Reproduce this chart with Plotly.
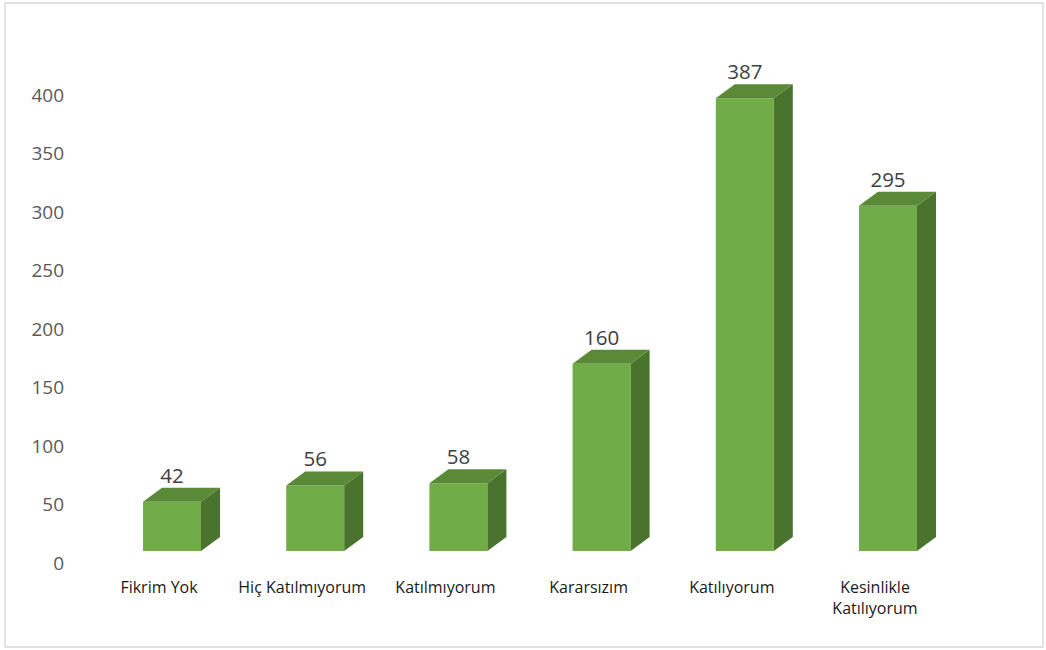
import plotly.graph_objects as go

categories = ["Fikrim Yok", "Hiç Katılmıyorum", "Katılmıyorum", "Kararsızım", "Katılıyorum", "Kesinlikle<br>Katılıyorum"]
values = [42, 56, 58, 160, 387, 295]
y_ticks = [0, 50, 100, 150, 200, 250, 300, 350, 400]

FRONT = "#70AD47"
TOP = "#5A8A38"
SIDE = "#4A742D"

W, H = 1046, 650
ml, mr, mt, mb = 75, 100, 40, 74
plot_h = H - mt - mb
plot_w = W - ml - mr
ppu = 1.17  # px per unit
y_label_zero_px = 563
y_bar_zero_px = 551
ylo = -(mt + plot_h - y_label_zero_px) / ppu
yhi = (y_label_zero_px - mt) / ppu
shift = (y_label_zero_px - y_bar_zero_px) / ppu

cat_px = 143.2
first_label_px = 159
xlo = (ml - first_label_px) / cat_px
xhi = (ml + plot_w - first_label_px) / cat_px

bw = 58 / cat_px
off = 13 / cat_px
dx = 19 / cat_px
dy = 14 / ppu

xs = [i + off for i in range(len(values))]

fig = go.Figure()
fig.add_trace(go.Scatter(x=[0], y=[0], mode="markers", marker=dict(opacity=0), yaxis="y",
                         showlegend=False, hoverinfo="skip"))
fig.add_trace(go.Bar(x=xs, y=values, width=bw, marker=dict(color=FRONT, line=dict(width=0)),
                     yaxis="y2", showlegend=False, hoverinfo="skip"))

sx, sy, tx, ty = [], [], [], []
for x, v in zip(xs, values):
    r = x + bw / 2
    l = x - bw / 2
    sx += [r, r + dx, r + dx, r, r, None]
    sy += [0, dy, v + dy, v, 0, None]
    tx += [l, r, r + dx, l + dx, l, None]
    ty += [v, v, v + dy, v + dy, v, None]
fig.add_trace(go.Scatter(x=sx, y=sy, fill="toself", fillcolor=SIDE, mode="lines",
                         line=dict(width=0, color=SIDE), yaxis="y2", showlegend=False, hoverinfo="skip"))
fig.add_trace(go.Scatter(x=tx, y=ty, fill="toself", fillcolor=TOP, mode="lines",
                         line=dict(width=0, color=TOP), yaxis="y2", showlegend=False, hoverinfo="skip"))
fig.add_trace(go.Scatter(x=xs, y=[v + dy for v in values], mode="text", text=[str(v) for v in values],
                         textposition="top center", textfont=dict(size=20.5, color="#404040", family="Open Sans"),
                         yaxis="y2", showlegend=False, hoverinfo="skip", cliponaxis=False))

fig.update_layout(
    width=W, height=H,
    margin=dict(l=ml, r=mr, t=mt, b=mb),
    paper_bgcolor="white", plot_bgcolor="white",
    font=dict(family="Open Sans"),
    xaxis=dict(range=[xlo, xhi], tickvals=list(range(len(categories))), ticktext=categories,
               showgrid=False, zeroline=False, showline=False, ticks="",
               tickfont=dict(size=16, color="#1a1a1a"), tickangle=0),
    yaxis=dict(range=[ylo, yhi], tickvals=y_ticks, showgrid=False, zeroline=False, showline=False,
               ticks="", tickfont=dict(size=19, color="#595959"), ticklabelstandoff=10),
    yaxis2=dict(range=[ylo - shift, yhi - shift], overlaying="y", visible=False),
    shapes=[dict(type="rect", xref="paper", yref="paper",
                 x0=(5 - ml) / plot_w, x1=(1043 - ml) / plot_w,
                 y0=(H - 647 - mb) / plot_h, y1=(H - 3 - mb) / plot_h,
                 line=dict(color="#d9d9d9", width=1.5), fillcolor="rgba(0,0,0,0)", layer="below")],
)
fig.write_html("out.html", config={"displayModeBar": False},
               post_script="document.body.style.margin='0';")
